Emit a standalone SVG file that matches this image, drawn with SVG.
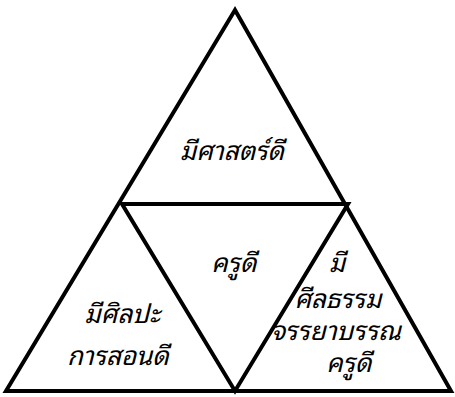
<svg xmlns="http://www.w3.org/2000/svg" width="455" height="397" viewBox="0 0 455 397">
<style>
.ln{fill:none;stroke:#000;stroke-width:4;stroke-linejoin:miter}
.t{font-family:"Noto Sans Thai Looped","Noto Serif Thai","Noto Sans Thai","Noto Sans","DejaVu Sans",sans-serif;font-style:italic;font-size:26px;fill:#000;text-anchor:middle}
</style>
<rect width="455" height="397" fill="#fff"/>
<g id="connectors">
<polygon class="ln" points="235,10 6,391 451,391"/>
<polygon class="ln" points="122,204 348,204 235,391"/>
</g>
<g id="top"><text class="t" x="232" y="160">มีศาสตร์ดี</text></g>
<g id="center"><text class="t" x="234" y="272">ครูดี</text></g>
<g id="left"><text class="t" x="122" y="323">มีศิลปะ</text><text class="t" x="118" y="365">การสอนดี</text></g>
<g id="right"><text class="t" x="337" y="272">มี</text><text class="t" x="338" y="308">ศีลธรรม</text><text class="t" x="336" y="340">จรรยาบรรณ</text><text class="t" x="349" y="372">ครูดี</text></g>
</svg>
